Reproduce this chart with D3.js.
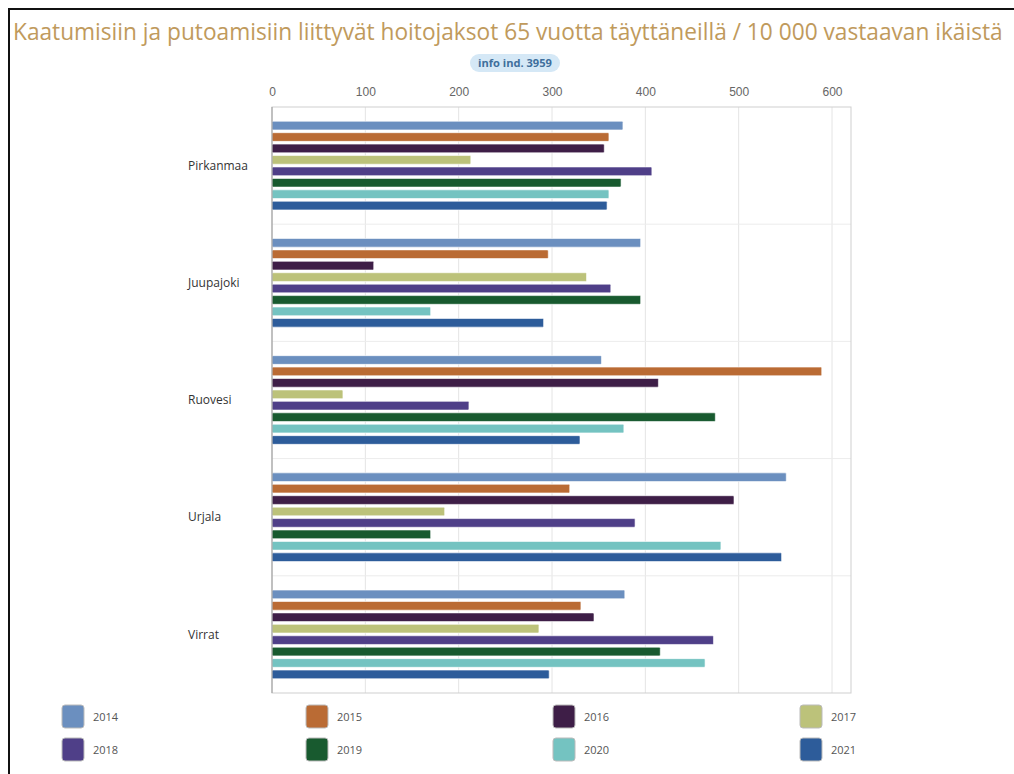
<!DOCTYPE html>
<html>
<head>
<meta charset="utf-8">
<script src="https://cdn.jsdelivr.net/npm/d3@7"></script>
<style>
  body { margin: 0; background: #fff; }
  svg { display: block; font-family: "Open Sans", "DejaVu Sans", sans-serif; }
</style>
</head>
<body>
<div id="chart"></div>
<script>
const titleText = 'Kaatumisiin ja putoamisiin liittyvät hoitojaksot 65 vuotta täyttäneillä / 10 000 vastaavan ikäistä'
const badgeText = 'info ind. 3959'

const regions = ['Pirkanmaa', 'Juupajoki', 'Ruovesi', 'Urjala', 'Virrat']
const years = ['2014', '2015', '2016', '2017', '2018', '2019', '2020', '2021']
const colors = ['#6b8fbf', '#ba6b34', '#3e1e47', '#bcc27a', '#4f3f88', '#185a2f', '#74c3c1', '#2d5c9a']
const xTicks = [0, 100, 200, 300, 400, 500, 600]

// values per region, one per year
const pirkanmaa = [376, 361, 356, 213, 407, 374, 361, 359]
const juupajoki = [395, 296, 109, 337, 363, 395, 170, 291]
const ruovesi   = [353, 589, 414, 76, 211, 475, 377, 330]
const urjala    = [551, 319, 495, 185, 389, 170, 481, 546]
const virrat    = [378, 331, 345, 286, 473, 416, 464, 297]
const values = [pirkanmaa, juupajoki, ruovesi, urjala, virrat]

const width = 1014, height = 774
const plot = { left: 272, right: 851, top: 107, bottom: 693 }

const svg = d3.select('#chart').append('svg')
  .attr('width', width)
  .attr('height', height)

// outer frame (top + left edge)
svg.append('path')
  .attr('d', `M9,${height} V9 H${width}`)
  .attr('fill', 'none')
  .attr('stroke', '#111')
  .attr('stroke-width', 2)

// title, squeezed horizontally to fit like the condensed original
let title = svg.append('text')
  .attr('fill', '#c09a5c')
  .style('font-size', '24px')
  .text(titleText)
let tw = title.node().getComputedTextLength()
title.attr('transform', `translate(13,40) scale(${990 / tw},1)`)

let badge = svg.append('g').attr('transform', 'translate(515,63)')
badge.append('rect')
  .attr('x', -45).attr('y', -9)
  .attr('width', 90).attr('height', 18)
  .attr('rx', 9)
  .attr('fill', '#d5e8f6')
let badgeLabel = badge.append('text')
  .attr('dy', '0.35em')
  .attr('fill', '#3f6f9c')
  .style('font-size', '10px')
  .style('font-weight', 'bold')
  .text(badgeText)
let bw = badgeLabel.node().getComputedTextLength()
badgeLabel.attr('transform', `scale(${74 / bw},1) translate(${-bw / 2},0)`)

let x = d3.scaleLinear()
  .domain([0, 600])
  .range([plot.left, plot.left + 560])

let y0 = d3.scaleBand()
  .domain(regions)
  .range([plot.top, plot.bottom])

let y1 = d3.scaleBand()
  .domain(years)
  .range([y0.bandwidth() * 0.11, y0.bandwidth() * 0.89])
  .paddingInner(0.24)
  .paddingOuter(0.12)

// gridlines
svg.append('g')
  .selectAll('line')
  .data(xTicks.slice(1))
  .enter().append('line')
  .attr('x1', (d) => x(d)).attr('x2', (d) => x(d))
  .attr('y1', plot.top).attr('y2', plot.bottom)
  .attr('stroke', '#e4e4e4')

svg.append('g')
  .selectAll('line')
  .data(regions.slice(1))
  .enter().append('line')
  .attr('x1', plot.left).attr('x2', plot.right)
  .attr('y1', (d) => y0(d)).attr('y2', (d) => y0(d))
  .attr('stroke', '#ececec')

svg.append('rect')
  .attr('x', plot.left).attr('y', plot.top)
  .attr('width', plot.right - plot.left)
  .attr('height', plot.bottom - plot.top)
  .attr('fill', 'none')
  .attr('stroke', '#cfcfcf')

// top axis
let xAxis = d3.axisTop(x).tickValues(xTicks).tickSize(0).tickPadding(6)
let ax = svg.append('g')
  .attr('transform', `translate(0,${plot.top - 5})`)
  .call(xAxis)
ax.select('.domain').remove()
ax.selectAll('text')
  .attr('fill', '#666')
  .style('font-size', '12px')

// bars
let groups = svg.append('g')
  .selectAll('g')
  .data(regions)
  .enter().append('g')
  .attr('transform', (d) => `translate(0,${y0(d)})`)

groups.selectAll('rect')
  .data((d, i) => values[i].map((v, j) => ({ year: years[j], value: v, color: colors[j] })))
  .enter().append('rect')
  .attr('x', x(0))
  .attr('y', (d) => y1(d.year))
  .attr('width', (d) => x(d.value) - x(0))
  .attr('height', y1.bandwidth())
  .attr('rx', 1)
  .attr('fill', (d) => d.color)
  .attr('stroke', '#fff')
  .attr('stroke-opacity', 0.6)
  .attr('stroke-width', 1)

// left axis line
svg.append('line')
  .attr('x1', plot.left).attr('x2', plot.left)
  .attr('y1', plot.top).attr('y2', plot.bottom)
  .attr('stroke', '#999')

// category labels
svg.append('g')
  .selectAll('text')
  .data(regions)
  .enter().append('text')
  .attr('x', 188)
  .attr('y', (d) => y0(d) + y0.bandwidth() / 2)
  .attr('dy', '0.35em')
  .attr('fill', '#333')
  .style('font-size', '12px')
  .text((d) => d)

// legend
let legendX = [62, 306, 553, 800]
let legendY = [705, 738]
let legend = svg.append('g')
  .selectAll('g')
  .data(years)
  .enter().append('g')
  .attr('transform', (d, i) => `translate(${legendX[i % 4]},${legendY[Math.floor(i / 4)]})`)

legend.append('rect')
  .attr('width', 22).attr('height', 23)
  .attr('rx', 3)
  .attr('fill', (d, i) => colors[i])
  .attr('stroke', '#bbb')
  .attr('stroke-width', 1)

legend.append('text')
  .attr('x', 31)
  .attr('y', 12)
  .attr('dy', '0.35em')
  .attr('fill', '#555')
  .style('font-size', '11px')
  .text((d) => d)
</script>
</body>
</html>
